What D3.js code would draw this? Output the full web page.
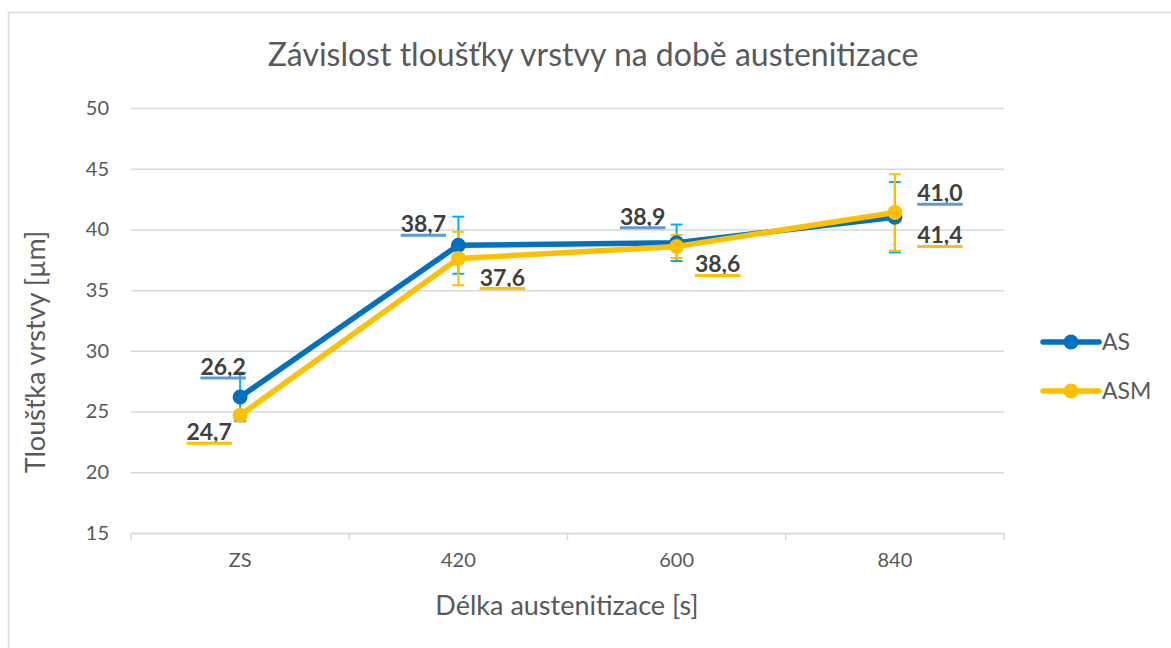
<!DOCTYPE html>
<html>
<head>
<meta charset="utf-8">
<script src="https://cdn.jsdelivr.net/npm/d3@7/dist/d3.min.js"></script>
<style>
  html, body { margin: 0; padding: 0; background: #fff; }
  svg { display: block; font-family: Lato, "Open Sans", sans-serif; }
</style>
</head>
<body>
<svg id="chart" width="1171" height="648"></svg>
<script>
// Austenitizing time categories and mean layer thickness per series
const categories = ["ZS", "420", "600", "840"];
const asValues  = [26.2, 38.7, 38.9, 41.0];
const asmValues = [24.7, 37.6, 38.6, 41.4];
// Error bar half-widths (±)
const asErrors  = [2.0, 2.35, 1.5, 2.9];
const asmErrors = [0.3, 2.2, 0.95, 3.15];
const yTicks = [15, 20, 25, 30, 35, 40, 45, 50];

const seriesNames = ["AS", "ASM"];

// Data label placement relative to each point (label centre x, baseline y)
const asLabelOffsets  = [[-17, -22], [-35, -13], [-34, -18], [45, -16]];
const asmLabelOffsets = [[-31, 25], [44, 27], [41, 26], [45, 31]];

const series = [
  { name: seriesNames[0], values: asValues, errors: asErrors, offsets: asLabelOffsets,
    line: "#0070C0", err: "#00B0F0", under: "#5B9BD5" },
  { name: seriesNames[1], values: asmValues, errors: asmErrors, offsets: asmLabelOffsets,
    line: "#FFC000", err: "#FFC000", under: "#FFC000" }
];

const svg = d3.select("#chart");
const plot = { left: 131, right: 1004, top: 108, bottom: 533 };

// Outer chart frame
svg.append("rect")
  .attr("x", 8.5).attr("y", 12.5)
  .attr("width", 1180).attr("height", 660)
  .attr("fill", "#fff").attr("stroke", "#D9D9D9").attr("stroke-width", 1.5);

const x = d3.scaleBand().domain(categories).range([plot.left, plot.right]).padding(0);
const y = d3.scaleLinear().domain([15, 50]).range([plot.bottom, plot.top]);
const cx = c => x(c) + x.bandwidth() / 2;

// Title
svg.append("text")
  .attr("x", 593).attr("y", 66)
  .attr("text-anchor", "middle")
  .attr("font-size", 32).attr("fill", "#595959")
  .text("Závislost tloušťky vrstvy na době austenitizace");

// Horizontal gridlines + y tick labels
const yAxis = svg.append("g")
  .attr("transform", `translate(${plot.left},0)`)
  .call(d3.axisLeft(y).tickValues(yTicks).tickSize(-(plot.right - plot.left)).tickPadding(22).tickFormat(d3.format("d")));
yAxis.select(".domain").remove();
yAxis.selectAll(".tick line").attr("stroke", "#D9D9D9").attr("stroke-width", 1.5);
yAxis.selectAll(".tick text").attr("font-size", 20).attr("fill", "#595959").attr("font-family", "Lato, sans-serif");

// Category axis: line, boundary ticks, labels
const xAxis = svg.append("g")
  .attr("transform", `translate(0,${plot.bottom})`)
  .call(d3.axisBottom(x).tickSize(0).tickPadding(20));
xAxis.select(".domain").attr("stroke", "#D9D9D9").attr("stroke-width", 1.5);
xAxis.selectAll(".tick text").attr("font-size", 20).attr("fill", "#595959").attr("font-family", "Lato, sans-serif");
const bounds = categories.map(c => x(c)).concat([x(categories[categories.length - 1]) + x.bandwidth()]);
svg.append("g").selectAll("line").data(bounds).join("line")
  .attr("x1", d => d).attr("x2", d => d)
  .attr("y1", plot.bottom).attr("y2", plot.bottom + 7)
  .attr("stroke", "#D9D9D9").attr("stroke-width", 1.5);

// Axis titles
svg.append("text")
  .attr("x", 567).attr("y", 615)
  .attr("text-anchor", "middle")
  .attr("font-size", 27).attr("fill", "#595959")
  .text("Délka austenitizace [s]");
svg.append("text")
  .attr("transform", "translate(45,352) rotate(-90)")
  .attr("text-anchor", "middle")
  .attr("font-size", 27).attr("fill", "#595959")
  .text("Tloušťka vrstvy [µm]");

// Error bars
series.forEach(s => {
  const g = svg.append("g");
  const rows = categories.map((c, i) => ({ c, v: s.values[i], e: s.errors[i] }));
  g.selectAll("line.v").data(rows).join("line")
    .attr("x1", d => cx(d.c)).attr("x2", d => cx(d.c))
    .attr("y1", d => y(d.v - d.e)).attr("y2", d => y(d.v + d.e))
    .attr("stroke", s.err).attr("stroke-width", 2);
  ["lo", "hi"].forEach(k => {
    g.selectAll("line." + k).data(rows).join("line")
      .attr("x1", d => cx(d.c) - 6).attr("x2", d => cx(d.c) + 6)
      .attr("y1", d => y(k === "lo" ? d.v - d.e : d.v + d.e))
      .attr("y2", d => y(k === "lo" ? d.v - d.e : d.v + d.e))
      .attr("stroke", s.err).attr("stroke-width", 2);
  });
});

// Lines and markers
const line = d3.line().x((d, i) => cx(categories[i])).y(d => y(d));
series.forEach(s => {
  svg.append("path").datum(s.values)
    .attr("d", line).attr("fill", "none")
    .attr("stroke", s.line).attr("stroke-width", 5.5)
    .attr("stroke-linejoin", "round").attr("stroke-linecap", "round");
  svg.append("g").selectAll("circle").data(s.values).join("circle")
    .attr("cx", (d, i) => cx(categories[i])).attr("cy", d => y(d))
    .attr("r", 7.5).attr("fill", s.line);
});

// Data labels with coloured underline
const fmt = v => v.toFixed(1).replace(".", ",");
series.forEach(s => {
  s.values.forEach((v, i) => {
    const px = cx(categories[i]) + s.offsets[i][0];
    const py = y(v) + s.offsets[i][1];
    const t = svg.append("text")
      .attr("x", px).attr("y", py)
      .attr("text-anchor", "middle")
      .attr("font-size", 23).attr("font-weight", "bold").attr("fill", "#404040")
      .text(fmt(v));
    const w = t.node().getComputedTextLength();
    svg.append("line")
      .attr("x1", px - w / 2).attr("x2", px + w / 2)
      .attr("y1", py + 3).attr("y2", py + 3)
      .attr("stroke", s.under).attr("stroke-width", 3);
  });
});

// Legend
const legend = svg.append("g");
series.forEach((s, i) => {
  const ly = 342 + i * 49;
  legend.append("line")
    .attr("x1", 1043).attr("x2", 1099).attr("y1", ly).attr("y2", ly)
    .attr("stroke", s.line).attr("stroke-width", 5.5).attr("stroke-linecap", "round");
  legend.append("circle").attr("cx", 1071).attr("cy", ly).attr("r", 7.5).attr("fill", s.line);
  legend.append("text")
    .attr("x", 1102).attr("y", ly + 8)
    .attr("font-size", 23).attr("fill", "#595959")
    .text(s.name);
});
</script>
</body>
</html>
